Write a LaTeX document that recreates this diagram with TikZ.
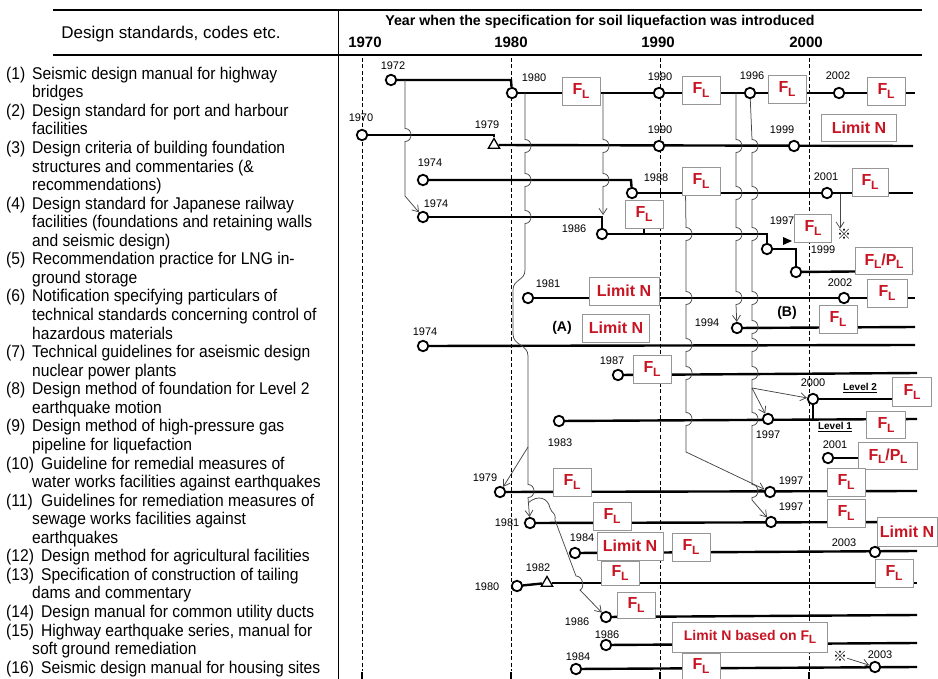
\documentclass[tikz,border=0pt]{standalone}
\usepackage{fontspec}
\setmainfont{Liberation Sans}
\newfontfamily\lfont[FakeStretch=0.92]{Liberation Sans}
\newfontfamily\cjk{Noto Sans CJK JP}
\usetikzlibrary{arrows.meta,shapes.geometric}
\pgfdeclarelayer{background}
\pgfsetlayers{background,main}
\definecolor{fred}{RGB}{200,20,35}
\definecolor{bgray}{RGB}{150,150,150}
\definecolor{cgray}{RGB}{70,70,70}
\newcommand\FL{F\kern-0.4pt\raisebox{-0.4ex}{\fontsize{12}{12}\selectfont L}}
\newcommand\PL{P\kern-0.4pt\raisebox{-0.4ex}{\fontsize{12}{12}\selectfont L}}
\newcommand\bmp[2]{-- (#1,#2-6.5) .. controls (#1+8,#2-6.5) and (#1+8,#2+6.5) .. (#1,#2+6.5)}
\tikzset{
  mline/.style={line width=2.4pt},
  yc/.style={circle,draw,line width=1.8pt,fill=white,minimum size=10.5pt,inner sep=0pt},
  tri/.style={regular polygon,regular polygon sides=3,draw,line width=1.3pt,fill=white,minimum size=13pt,inner sep=0pt},
  vbox/.style={draw=bgray,line width=0.9pt,fill=white,text=fred,font=\fontsize{16}{16}\selectfont\bfseries,minimum width=38pt,minimum height=28pt,inner sep=1pt},
  yl/.style={font=\fontsize{11}{11}\selectfont,inner sep=0pt},
  conn/.style={line width=0.75pt,cgray},
  arr/.style={-{Straight Barb[length=6pt,width=8pt]}},
  dl/.style={line width=1pt,dash pattern=on 4pt off 2.5pt},
  txt/.style={anchor=west,inner sep=0pt,font=\lfont\fontsize{17}{17}\selectfont,text height=12pt,text depth=3.5pt},
  lev/.style={font=\fontsize{10}{10}\selectfont\bfseries,inner sep=0pt},
  pl/.style={font=\fontsize{14}{14}\selectfont\bfseries,inner sep=0pt},
  star/.style={font=\cjk\fontsize{14}{14}\selectfont,inner sep=0pt},
}
\begin{document}
\begin{tikzpicture}[x=1pt,y=-1pt]
\useasboundingbox (0,0) rectangle (938,679);
% frame
\draw[line width=1.1pt] (53,10) -- (922,10);
\draw[line width=1.1pt] (53,55) -- (922,55);
\draw[line width=0.8pt] (338,10) -- (338,679);
% headers
\node[font=\fontsize{17}{17}\selectfont] (hd1) at (171,34) {Design standards, codes etc.};
\node[font=\fontsize{14.2}{14.2}\selectfont\bfseries] (hd2) at (600,22) {Year when the specification for soil liquefaction was introduced};
\node[font=\fontsize{15}{15}\selectfont\bfseries] (y70) at (365,42) {1970};
\node[font=\fontsize{15}{15}\selectfont\bfseries] (y80) at (511,42) {1980};
\node[font=\fontsize{15}{15}\selectfont\bfseries] (y90) at (658,42) {1990};
\node[font=\fontsize{15}{15}\selectfont\bfseries] (y00) at (806,42) {2000};
% dashed year lines
\foreach \x in {362,511,660,809} {\draw[dl] (\x,58) -- (\x,671); \draw[line width=2pt] (\x,672) -- (\x,679);}
% left column
\node[txt] (N1) at (6,75.0) {(1)};
\node[txt] (L1) at (32,75.0) {Seismic design manual for highway};
\node[txt] (L2) at (32,93.6) {bridges};
\node[txt] (N2) at (6,112.1) {(2)};
\node[txt] (L3) at (32,112.1) {Design standard for port and harbour};
\node[txt] (L4) at (32,130.7) {facilities};
\node[txt] (N3) at (6,149.2) {(3)};
\node[txt] (L5) at (32,149.2) {Design criteria of building foundation};
\node[txt] (L6) at (32,167.8) {structures and commentaries (\&};
\node[txt] (L7) at (32,186.4) {recommendations)};
\node[txt] (N4) at (6,204.9) {(4)};
\node[txt] (L8) at (32,204.9) {Design standard for Japanese railway};
\node[txt] (L9) at (32,223.5) {facilities (foundations and retaining walls};
\node[txt] (L10) at (32,242.0) {and seismic design)};
\node[txt] (N5) at (6,260.6) {(5)};
\node[txt] (L11) at (32,260.6) {Recommendation practice for LNG in-};
\node[txt] (L12) at (32,279.2) {ground storage};
\node[txt] (N6) at (6,297.7) {(6)};
\node[txt] (L13) at (32,297.7) {Notification specifying particulars of};
\node[txt] (L14) at (32,316.3) {technical standards concerning control of};
\node[txt] (L15) at (32,334.8) {hazardous materials};
\node[txt] (N7) at (6,353.4) {(7)};
\node[txt] (L16) at (32,353.4) {Technical guidelines for aseismic design};
\node[txt] (L17) at (32,372.0) {nuclear power plants};
\node[txt] (N8) at (6,390.5) {(8)};
\node[txt] (L18) at (32,390.5) {Design method of foundation for Level 2};
\node[txt] (L19) at (32,409.1) {earthquake motion};
\node[txt] (N9) at (6,427.6) {(9)};
\node[txt] (L20) at (32,427.6) {Design method of high-pressure gas};
\node[txt] (L21) at (32,446.2) {pipeline for liquefaction};
\node[txt] (N10) at (6,464.8) {(10)};
\node[txt] (L22) at (41,464.8) {Guideline for remedial measures of};
\node[txt] (L23) at (32,483.3) {water works facilities against earthquakes};
\node[txt] (N11) at (6,501.9) {(11)};
\node[txt] (L24) at (41,501.9) {Guidelines for remediation measures of};
\node[txt] (L25) at (32,520.4) {sewage works facilities against};
\node[txt] (L26) at (32,539.0) {earthquakes};
\node[txt] (N12) at (6,557.6) {(12)};
\node[txt] (L27) at (41,557.6) {Design method for agricultural facilities};
\node[txt] (N13) at (6,576.1) {(13)};
\node[txt] (L28) at (41,576.1) {Specification of construction of tailing};
\node[txt] (L29) at (32,594.7) {dams and commentary};
\node[txt] (N14) at (6,613.2) {(14)};
\node[txt] (L30) at (41,613.2) {Design manual for common utility ducts};
\node[txt] (N15) at (6,631.8) {(15)};
\node[txt] (L31) at (41,631.8) {Highway earthquake series, manual for};
\node[txt] (L32) at (32,650.4) {soft ground remediation};
\node[txt] (N16) at (6,668.9) {(16)};
\node[txt] (L33) at (41,668.9) {Seismic design manual for housing sites};
% row 1
\node[yc] (c1a) at (391,80) {};
\node[yl] (l1a) at (393,66) {1972};
\node[yc] (c1b) at (512,93) {};
\node[yl] (l1b) at (534,78) {1980};
\node[vbox] (b1a) at (581,91) {\FL};
\node[yc] (c1c) at (659,93) {};
\node[yl] (l1c) at (660,77) {1990};
\node[vbox] (b1b) at (701,90) {\FL};
\node[yc] (c1d) at (750,93) {};
\node[yl] (l1d) at (752,76) {1996};
\node[vbox] (b1c) at (787,89) {\FL};
\node[yc] (c1e) at (839,93) {};
\node[yl] (l1e) at (838,76) {2002};
\node[vbox] (b1d) at (886,91) {\FL};
% row 2
\node[yc] (c2a) at (362,135) {};
\node[yl] (l2a) at (361,118) {1970};
\node[tri] (t2) at (494,145) {};
\node[yl] (l2b) at (487,125) {1979};
\node[yc] (c2b) at (659,146) {};
\node[yl] (l2c) at (660,130) {1990};
\node[yc] (c2c) at (794,146) {};
\node[yl] (l2d) at (782,130) {1999};
\node[vbox,minimum width=75pt,minimum height=27pt] (b2) at (859,128) {Limit N};
% row 3
\node[yc] (c3a) at (423,180) {};
\node[yl] (l3a) at (430,163) {1974};
\node[yc] (c3b) at (632,193) {};
\node[yl] (l3b) at (656,178) {1988};
\node[vbox] (b3a) at (701,181) {\FL};
\node[yc] (c3c) at (827,193) {};
\node[yl] (l3c) at (826,177) {2001};
\node[vbox,minimum width=36pt] (b3b) at (870,182) {\FL};
\node[star] (st3) at (844,234) {※};
\coordinate (s3) at (840,194);
% row 4
\node[yc] (c4a) at (423,217) {};
\node[yl] (l4a) at (436,204) {1974};
\node[yc] (c4b) at (602,234) {};
\node[yl] (l4b) at (574,229) {1986};
\node[vbox] (b4a) at (644,214) {\FL};
\node[yc] (c4c) at (767,249) {};
\node[yl] (l4c) at (782,221) {1997};
\node[vbox,minimum width=37pt] (b4b) at (813,228) {\FL};
\node[yl] (l4d) at (823,250) {1999};
\coordinate (j4) at (603,215);
% row 5
\node[yc] (c5a) at (796,272) {};
\node[vbox,minimum width=57pt,minimum height=27pt] (b5) at (884,261) {\FL/\PL};
% row 6
\node[yc] (c6a) at (528,298) {};
\node[yl] (l6a) at (548,284) {1981};
\node[vbox,minimum width=70pt] (b6a) at (624,291) {Limit N};
\node[yc] (c6b) at (844,298) {};
\node[yl] (l6b) at (840,283) {2002};
\node[vbox,minimum width=40pt] (b6b) at (887,293) {\FL};
\node[pl] (pA) at (562,328) {(A)};
\node[vbox,minimum width=67pt] (bA) at (616,328) {Limit N};
\node[yc] (c6c) at (737,328) {};
\node[yl] (l6c) at (707,323) {1994};
\node[pl] (pB) at (787,313) {(B)};
\node[vbox] (bB) at (838,319) {\FL};
% row 7
\node[yc] (c7a) at (423,346) {};
\node[yl] (l7a) at (425,332) {1974};
% row 8
\node[yc] (c8a) at (618,375) {};
\node[yl] (l8a) at (612,361) {1987};
\node[vbox] (b8) at (652,369) {\FL};
% row 9
\node[yc] (c9a) at (559,421) {};
\node[yl] (l9a) at (560,443) {1983};
\node[yc] (c9b) at (768,419) {};
\node[yl] (l9b) at (768,435) {1997};
\node[yc] (c9c) at (813,399) {};
\node[yl] (l9c) at (813,383) {2000};
\node[lev] (lv2) at (860,388) {\underline{Level 2}};
\node[vbox,minimum width=39pt,minimum height=29pt] (b9a) at (912,392) {\FL};
\node[lev] (lv1) at (835,427) {\underline{Level 1}};
\node[vbox,minimum width=39pt,minimum height=27pt] (b9b) at (886,425) {\FL};
\node[yc] (c9d) at (828,458) {};
\node[yl] (l9d) at (835,445) {2001};
\node[vbox,minimum width=59pt,minimum height=27pt] (b9c) at (888,456) {\FL/\PL};
% row 10
\node[yc] (c10a) at (500,492) {};
\node[yl] (l10a) at (485,478) {1979};
\node[vbox] (b10a) at (572,482) {\FL};
\node[yc] (c10b) at (770,492) {};
\node[yl] (l10b) at (791,481) {1997};
\node[vbox] (b10b) at (846,482) {\FL};
% row 11
\node[yc] (c11a) at (530,523) {};
\node[yl] (l11a) at (507,523) {1981};
\node[vbox] (b11a) at (612,516) {\FL};
\node[yc] (c11b) at (771,522) {};
\node[yl] (l11b) at (791,507) {1997};
\node[vbox] (b11b) at (846,513) {\FL};
\node[vbox,minimum width=60pt,minimum height=29pt] (b11c) at (907,532) {Limit N};
% row 12
\node[yc] (c12a) at (575,553) {};
\node[yl] (l12a) at (582,538) {1984};
\node[vbox,minimum width=66pt] (b12a) at (630,546) {Limit N};
\node[vbox] (b12b) at (691,547) {\FL};
\node[yc] (c12b) at (875,552) {};
\node[yl] (l12b) at (844,543) {2003};
% row 13
\node[yc] (c13a) at (517,586) {};
\node[yl] (l13a) at (487,587) {1980};
\node[tri] (t13) at (547,583) {};
\node[yl] (l13b) at (538,568) {1982};
\node[vbox,minimum height=24pt] (b13a) at (620,573) {\FL};
\node[vbox] (b13b) at (894,573) {\FL};
% row 14
\node[yc] (c14a) at (606,617) {};
\node[yl] (l14a) at (577,622) {1986};
\node[vbox,minimum height=26pt] (b14) at (636,605) {\FL};
% row 15
\node[yc] (c15a) at (606,645) {};
\node[yl] (l15a) at (607,635) {1986};
\node[vbox,minimum width=155pt,minimum height=30pt,font=\fontsize{14}{14}\selectfont\bfseries] (b15) at (750,637) {Limit N based on \FL};
% row 16
\node[yc] (c16a) at (576,669) {};
\node[yl] (l16a) at (578,657) {1984};
\node[vbox,minimum height=26pt] (b16) at (701,666) {\FL};
\node[yc] (c16b) at (875,667) {};
\node[yl] (l16b) at (880,655) {2003};
\node[star] (st16) at (840,656) {※};
% small marker
\fill (783,237) -- (792,241) -- (783,245) -- cycle;
\begin{pgfonlayer}{background}
% main lines
\draw[mline] (c1a) -- (511,80) -- (c1b);
\draw[mline] (c1b) -- (915,93);
\draw[mline] (c2a) -- (494,135) -- (t2);
\draw[mline] (t2) -- (913,146);
\draw[mline] (c3a) -- (631,180) -- (c3b);
\draw[mline] (c3b) -- (913,193);
\draw[mline] (c4a) -- (602,217) -- (c4b);
\draw[mline] (c4b) -- (767,234) -- (c4c);
\draw[mline] (c4c) -- (796,249) -- (c5a);
\draw[mline] (b4a.south) -- (b4a.south |- c4b);
\draw[mline] (c5a) -- (913,271);
\draw[mline] (c6a) -- (915,298);
\draw[mline] (c6c) -- (915,327);
\draw[mline] (c7a) -- (915,345);
\draw[mline] (c8a) -- (917,373);
\draw[mline] (c9a) -- (917,419);
\draw[mline] (c9c) -- (c9c -| b9a.west);
\draw[line width=1.8pt] (c9c) -- (c9c |- c9b);
\draw[mline] (c9d) -- (c9d -| b9c.west);
\draw[mline] (c10a) -- (917,491);
\draw[mline] (c11a) -- (917,522);
\draw[mline] (c12a) -- (917,551);
\draw[mline] (c13a) -- (t13);
\draw[mline] (t13) -- (917,583);
\draw[mline] (c14a) -- (917,615);
\draw[mline] (c15a) -- (917,643);
\draw[mline] (c16a) -- (917,667);
% thin connectors
\draw[conn,arr] (405,80) \bmp{405}{135} -- (405,196) -- (c4a);
\draw[conn,arr] (525,93) \bmp{525}{146} \bmp{525}{180} \bmp{525}{217} -- (525,270) .. controls (525,281) and (513,279) .. (513,290) -- (513,334) .. controls (513,346) and (528,344) .. (528,356) -- (528,447) \bmp{528}{491} -- (c11a);
\draw[conn,arr] (528,447) -- (c10a);
\draw[conn,arr] (528,503) .. controls (538,494) and (548,498) .. (550,508) .. controls (552,514) and (556,512) .. (555,520) -- (576,576) .. controls (583,576) and (585,588) .. (580,590) -- (c14a);
\draw[conn,arr] (603,93) \bmp{603}{146} \bmp{603}{180} -- (j4);
\draw[conn,arr] ([xshift=4pt]b3a.south west) \bmp{686}{234} \bmp{686}{298} \bmp{686}{345} \bmp{686}{373} \bmp{686}{419} -- (686,452) -- (c10b);
\draw[conn,arr] (736,93) \bmp{736}{146} \bmp{736}{193} \bmp{736}{234} \bmp{736}{298} -- (c6c);
\draw[conn,arr] (c1d) \bmp{752}{146} \bmp{752}{193} \bmp{752}{234} \bmp{752}{298} \bmp{752}{327} \bmp{752}{345} \bmp{752}{373} -- (752,388) coordinate (j6) \bmp{752}{419} \bmp{752}{491} -- (752,500) -- (c11b);
\draw[conn,arr] (j6) -- (c9c);
\draw[conn,arr] (j6) -- (c9b);
\draw[conn,arr] (s3) -- (s3 |- st3.north);
\draw[conn,arr] (st16) -- (c16b);
\end{pgfonlayer}
\end{tikzpicture}
\end{document}
